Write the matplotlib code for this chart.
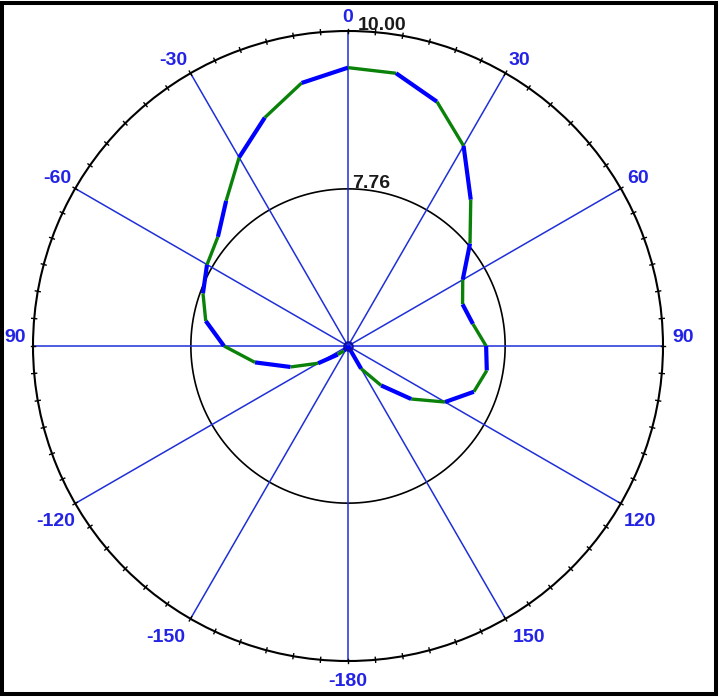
import numpy as np
import matplotlib
matplotlib.use("Agg")
import matplotlib.pyplot as plt
from matplotlib.patches import Rectangle

# ---- data -------------------------------------------------------------
ANGLES_DEG = [-180, -170, -160, -150, -140, -130, -120, -110, -100, -90,
              -80, -70, -60, -50, -40, -30, -20, -10, 0, 10, 20, 30, 40,
              50, 60, 70, 80, 90, 100, 110, 120, 130, 140, 150, 160, 170]
VALUES = [5.53, 5.53, 5.53, 5.53, 5.62, 5.72, 6.02, 6.40, 6.87, 7.29,
          7.58, 7.72, 7.84, 7.94, 8.22, 8.62, 8.98, 9.32, 9.48, 9.46, 9.22, 8.81, 8.24,
          7.79, 7.41, 7.26, 7.33, 7.49, 7.53, 7.43, 7.12, 6.70, 6.26, 5.90, 5.53, 5.53]
R_MIN = 5.53
R_MAX = 10.00
R_INNER = 7.76
SPOKE_ANGLES = [0, 30, 60, 90, 120, 150, 180, 210, 240, 270, 300, 330]
LABEL_ANGLES = [0, 30, 60, 90, 120, 150, 180, -150, -120, -90, -60, -30]
LABEL_TEXTS = ["0", "30", "60", "90", "120", "150", "-180", "-150", "-120", "90", "-60", "-30"]
RING_LABELS = ["10.00", "7.76"]

# ---- style ------------------------------------------------------------
BLUE = "#0000ff"
GREEN = "#0a820a"
SPOKE = "#1f2fd8"
LABEL_COL = "#2323e6"
FONT = "Liberation Sans"

fig = plt.figure(figsize=(7.2, 6.97), dpi=100)
ax = fig.add_axes([33 / 720, (697 - 346 - 315) / 697, 630 / 720, 630 / 697],
                  projection="polar")
ax.set_theta_zero_location("N")
ax.set_theta_direction(-1)
ax.set_ylim(R_MIN, R_MAX)
ax.set_xticks([])
ax.set_yticks([])
ax.grid(False)
ax.spines["polar"].set_color("black")
ax.spines["polar"].set_linewidth(1.5)

# inner reference circle
th = np.linspace(0, 2 * np.pi, 361)
ax.plot(th, np.full_like(th, R_INNER), color="black", lw=1.2, zorder=2)

# spokes
for a in SPOKE_ANGLES:
    r = np.deg2rad(a)
    ax.plot([r, r], [R_MIN, R_MAX], color=SPOKE, lw=1.1, zorder=2)

# small ticks every 5 degrees on the outer circle
d = 0.035
for a in range(0, 360, 5):
    r = np.deg2rad(a)
    ax.plot([r, r], [R_MAX - d, R_MAX + d], color="black", lw=1.0,
            clip_on=False, zorder=3)

# data curve: alternating coloured segments
n = len(ANGLES_DEG)
for i in range(n):
    a0, a1 = ANGLES_DEG[i], ANGLES_DEG[(i + 1) % n]
    if a1 < a0:
        a1 += 360
    v0, v1 = VALUES[i], VALUES[(i + 1) % n]
    even = (a0 // 10) % 2 == 0
    col = GREEN if even else BLUE
    lw = 2.4 if even else 3.0
    ax.plot(np.deg2rad([a0, a1]), [v0, v1], color=col, lw=lw,
            solid_capstyle="butt", zorder=4)

ax.plot([0], [R_MIN], marker="o", ms=6, mfc="none", mec="#1010a0", mew=1.6, zorder=5)

# angle labels
offsets = {0: (0, 15), 30: (14, 15), 60: (17, 12), 90: (20, 10), 120: (19, -16),
           150: (24, -17), 180: (0, -18), -150: (-25, -17), -120: (-20, -16),
           -90: (-18, 10), -60: (-18, 12), -30: (-17, 15)}
for a, txt in zip(LABEL_ANGLES, LABEL_TEXTS):
    ax.annotate(txt, xy=(np.deg2rad(a), R_MAX), xytext=offsets[a],
                textcoords="offset pixels", ha="center", va="center_baseline",
                color=LABEL_COL, fontsize=14, fontweight="bold", family=FONT,
                annotation_clip=False)

# ring value labels
for val, txt, dx in zip([R_MAX, R_INNER], RING_LABELS, [10, 4]):
    ax.annotate(txt, xy=(0, val), xytext=(dx, 1), textcoords="offset pixels",
                ha="left", va="baseline", color="#1a1a1a", fontsize=14,
                fontweight="bold", family=FONT, annotation_clip=False, zorder=6)

# frame around the figure
fig.patches.append(Rectangle((2 / 720, 3 / 697), 714 / 720, 691 / 697,
                             transform=fig.transFigure, fill=False,
                             edgecolor="black", lw=2.9))

fig.savefig("out.png", dpi=100)
